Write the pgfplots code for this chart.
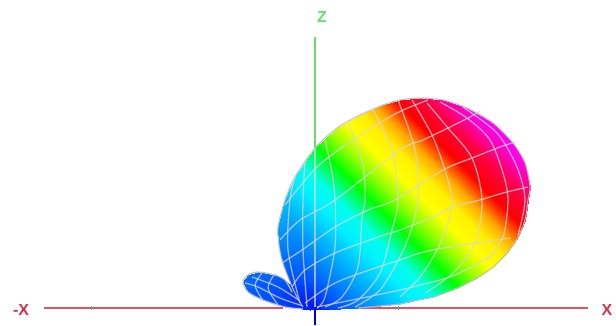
\documentclass[border=0pt]{standalone}
\usepackage{fontspec}
\setmainfont{Liberation Sans}
\usepackage{pgfplots}
\pgfplotsset{compat=1.18}
\definecolor{xred}{RGB}{224,82,96}
\definecolor{xlab}{RGB}{214,48,72}
\definecolor{zgreen}{RGB}{96,222,110}
\definecolor{gridgray}{RGB}{215,215,215}
\definecolor{edgegray}{RGB}{190,190,196}
\definecolor{tickteal}{RGB}{90,170,170}
\begin{document}
\begin{tikzpicture}
\begin{axis}[
    scale only axis, width=616pt, height=325pt,
    xmin=0, xmax=616, ymin=0, ymax=325, y dir=reverse,
    axis lines=none,
    colormap={lobe}{
        rgb255(0pt)=(0,0,240);
        rgb255(30pt)=(0,80,255);
        rgb255(80pt)=(0,175,255);
        rgb255(115pt)=(0,240,255);
        rgb255(140pt)=(0,255,235);
        rgb255(173pt)=(0,255,0);
        rgb255(200pt)=(150,255,0);
        rgb255(225pt)=(255,255,0);
        rgb255(250pt)=(255,240,0);
        rgb255(272pt)=(255,170,0);
        rgb255(298pt)=(255,0,0);
        rgb255(330pt)=(255,0,70);
        rgb255(360pt)=(255,0,220);
        rgb255(372pt)=(255,0,255)
    },
    point meta min=-10, point meta max=362,
    grid line/.style={gridgray, opacity=.72, line width=1.3pt, smooth, no marks},
]
\path (axis cs:0,0) -- (axis cs:616,325);
% axes behind the lobes
\addplot[xred, line width=1.4pt, no marks] coordinates {(44,308) (283,308)};
\addplot[xred, line width=1.4pt, no marks] coordinates {(358,308) (588,308)};
\addplot[zgreen, line width=1.1pt, no marks] coordinates {(315,37) (315,200)};
\addplot[only marks, mark=|, mark size=2pt, tickteal, line width=.8pt] coordinates {(91,308) (398,308)};

% small back lobe
\addplot[surf, shader=interp, mesh/cols=2, mesh/rows=13, point meta=explicit] coordinates {
(315,306)[0] (310,310)[0]
(315,306)[0] (285,307)[14]
(315,306)[0] (263,300)[22]
(315,306)[0] (248,292)[28]
(315,306)[0] (243,282)[32]
(315,306)[0] (248,275)[34]
(315,306)[0] (258,272)[34]
(315,306)[0] (275,275)[30]
(315,306)[0] (285,280)[24]
(315,306)[0] (292,292)[14]
(315,306)[0] (297,300)[8]
(315,306)[0] (305,305)[3]
(315,306)[0] (315,306)[0]
};
\addplot[edgegray, line width=1.2pt, smooth, no marks] coordinates {(303,309) (285,307) (263,300) (248,292) (243,282) (248,275) (258,272) (275,275) (285,280) (292,292)};
\addplot[grid line] coordinates {(303,306) (280,298) (258,287) (245,283)};
\addplot[grid line] coordinates {(303,303) (278,287) (252,277)};
\addplot[grid line] coordinates {(262,273) (255,285) (262,299)};
\addplot[grid line] coordinates {(274,275) (268,288) (278,305)};

% main lobe, meta runs along the lobe direction
\addplot[surf, shader=interp, mesh/cols=2, mesh/rows=36, point meta=explicit] coordinates {
(315,306)[0] (315,310)[0]
(315,306)[0] (340,309)[24]
(315,306)[0] (358,308)[43]
(315,306)[0] (380,306)[67]
(315,306)[0] (400,304)[89]
(315,306)[0] (413,301)[105]
(315,306)[0] (433,297)[129]
(315,306)[0] (457,288)[162]
(315,306)[0] (477,278)[192]
(315,306)[0] (493,267)[219]
(315,306)[0] (507,253)[247]
(315,306)[0] (518,237)[274]
(315,306)[0] (525,220)[298]
(315,306)[0] (528,200)[321]
(315,306)[0] (530,187)[336]
(315,306)[0] (525,163)[355]
(315,306)[0] (513,143)[363]
(315,306)[0] (493,123)[363]
(315,306)[0] (467,108)[352]
(315,306)[0] (443,100)[336]
(315,306)[0] (420,98)[315]
(315,306)[0] (400,100)[293]
(315,306)[0] (383,105)[271]
(315,306)[0] (360,115)[238]
(315,306)[0] (337,128)[202]
(315,306)[0] (315,148)[160]
(315,306)[0] (295,177)[111]
(315,306)[0] (285,200)[78]
(315,306)[0] (278,227)[60]
(315,306)[0] (279,245)[44]
(315,306)[0] (282,260)[35]
(315,306)[0] (288,277)[20]
(315,306)[0] (297,297)[5]
(315,306)[0] (303,307)[0]
(315,306)[0] (310,309)[0]
(315,306)[0] (315,310)[0]
};
\addplot[edgegray, opacity=.85, line width=1.2pt, smooth, no marks] coordinates {(303,307) (297,297) (288,277) (282,260) (279,245) (278,227) (285,200) (295,177) (315,148) (337,128) (360,115) (383,105) (400,100) (420,98) (443,100) (467,108) (493,123) (513,143) (525,163) (530,187) (528,200) (525,220) (518,237) (507,253) (493,267) (477,278) (457,288) (433,297) (413,301) (400,304) (380,306) (358,308)};

% grid along the lobe
\addplot[grid line] coordinates {(295,177) (290,200) (288,250) (300,303)};
\addplot[grid line] coordinates {(305,160) (303,200) (303,250) (307,307)};
\addplot[grid line] coordinates {(315,148) (315,200) (315,307)};
\addplot[grid line] coordinates {(325,140) (332,173) (335,200) (335,247) (325,297) (317,308)};
\addplot[grid line] coordinates {(349,123) (363,165) (365,200) (362,217) (358,267) (342,297) (325,307)};
\addplot[grid line] coordinates {(373,110) (392,150) (398,200) (392,230) (380,273) (358,300) (338,308)};
\addplot[grid line] coordinates {(398,100) (415,150) (418,200) (410,233) (400,257) (380,290) (355,307)};
\addplot[grid line] coordinates {(412,100) (432,135) (445,170) (452,200) (448,223) (437,250) (420,277) (400,297)};
\addplot[grid line] coordinates {(427,103) (448,128) (472,158) (482,200) (475,243) (453,273) (425,293)};
\addplot[grid line] coordinates {(440,102) (467,118) (490,140) (503,173) (508,200) (503,237) (487,260)};
\addplot[grid line] coordinates {(463,107) (497,133) (517,167) (525,200) (518,235)};
% grid across the lobe
\addplot[grid line] coordinates {(317,307) (362,298) (400,290) (420,285) (450,277) (475,265) (492,255)};
\addplot[grid line] coordinates {(305,303) (335,283) (378,267) (400,260) (420,253) (443,248) (477,243) (510,238)};
\addplot[grid line] coordinates {(292,287) (305,270) (335,253) (378,237) (400,230) (433,217) (452,207) (480,200) (503,193) (528,187)};
\addplot[grid line] coordinates {(282,263) (302,250) (335,227) (368,210) (395,200) (443,170) (472,158) (500,147) (515,142)};
\addplot[grid line] coordinates {(280,240) (300,220) (335,200) (400,150) (423,140) (448,128) (470,117) (480,111)};
\addplot[grid line] coordinates {(285,205) (317,167) (357,137) (397,113) (428,100)};

% blue axis stub in front
\addplot[blue!80!black, line width=2pt, no marks] coordinates {(315,308) (315,325)};

\node[text=xlab, font=\bfseries\fontsize{16}{16}\selectfont] at (axis cs:21,310) {-X};
\node[text=xlab, font=\bfseries\fontsize{16}{16}\selectfont] at (axis cs:607,310) {X};
\node[text=zgreen, font=\bfseries\fontsize{16}{16}\selectfont] at (axis cs:322,17) {Z};
\end{axis}
\end{tikzpicture}
\end{document}
